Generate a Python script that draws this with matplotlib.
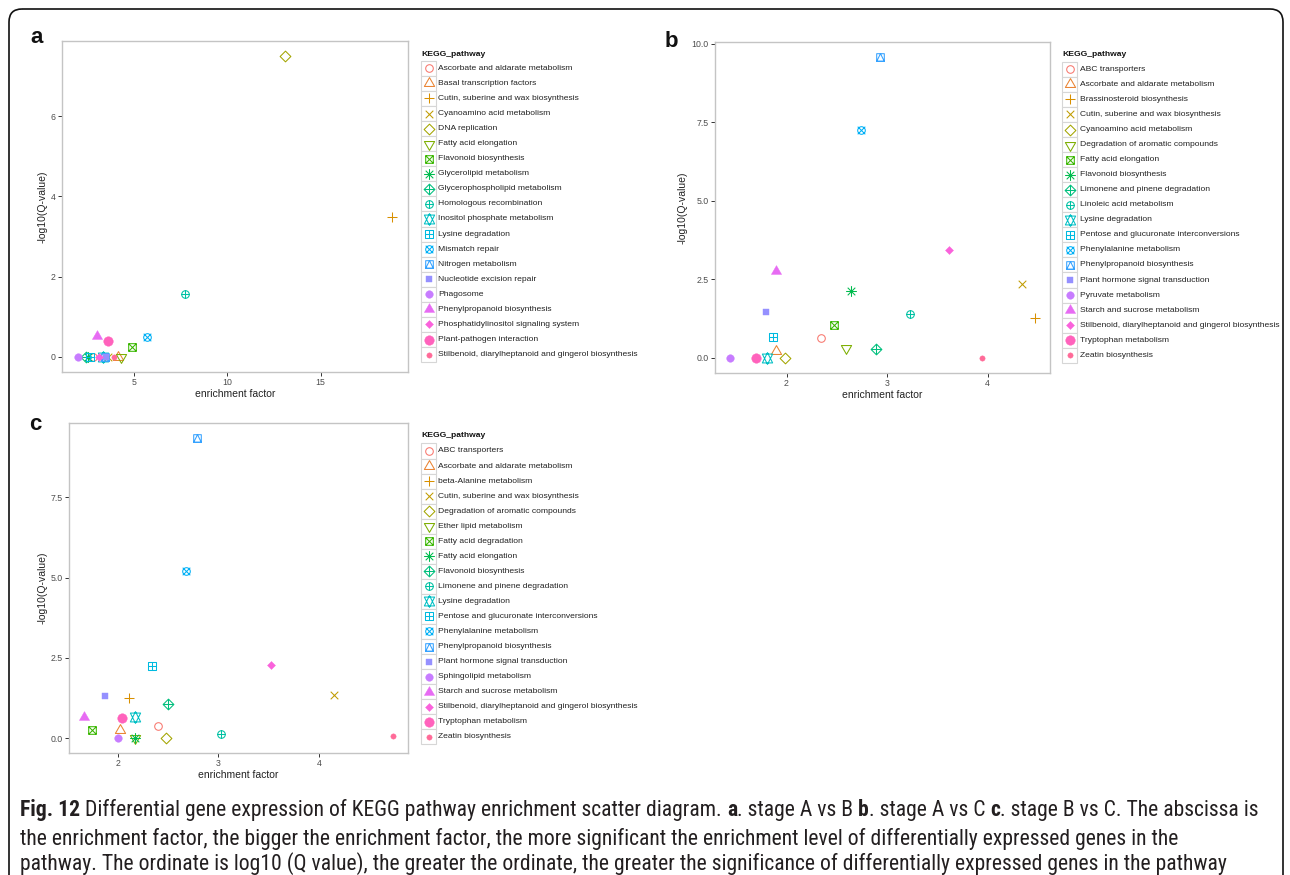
import numpy as np
import matplotlib
matplotlib.use("Agg")
import matplotlib.pyplot as plt
from matplotlib.path import Path
from matplotlib.patches import Rectangle, FancyBboxPatch
from matplotlib import font_manager

# ------------------------- data -------------------------
pathways_a = ["Ascorbate and aldarate metabolism", "Basal transcription factors",
              "Cutin, suberine and wax biosynthesis", "Cyanoamino acid metabolism",
              "DNA replication", "Fatty acid elongation", "Flavonoid biosynthesis",
              "Glycerolipid metabolism", "Glycerophospholipid metabolism",
              "Homologous recombination", "Inositol phosphate metabolism",
              "Lysine degradation", "Mismatch repair", "Nitrogen metabolism",
              "Nucleotide excision repair", "Phagosome", "Phenylpropanoid biosynthesis",
              "Phosphatidylinositol signaling system", "Plant-pathogen interaction",
              "Stilbenoid, diarylheptanoid and gingerol biosynthesis"]
ef_a = [2.80, 4.15, 18.84, 3.60, 13.10, 4.33, 4.88, 2.55, 2.42, 7.74,
        3.35, 2.65, 5.73, 3.45, 3.52, 2.00, 3.01, 3.13, 3.60, 3.93]
q_a = [0.0, 0.0, 3.48, 0.0, 7.50, 0.0, 0.25, 0.0, 0.0, 1.57,
       0.0, 0.0, 0.50, 0.0, 0.0, 0.0, 0.53, 0.0, 0.40, 0.0]

pathways_b = ["ABC transporters", "Ascorbate and aldarate metabolism",
              "Brassinosteroid biosynthesis", "Cutin, suberine and wax biosynthesis",
              "Cyanoamino acid metabolism", "Degradation of aromatic compounds",
              "Fatty acid elongation", "Flavonoid biosynthesis",
              "Limonene and pinene degradation", "Linoleic acid metabolism",
              "Lysine degradation", "Pentose and glucuronate interconversions",
              "Phenylalanine metabolism", "Phenylpropanoid biosynthesis",
              "Plant hormone signal transduction", "Pyruvate metabolism",
              "Starch and sucrose metabolism",
              "Stilbenoid, diarylheptanoid and gingerol biosynthesis",
              "Tryptophan metabolism", "Zeatin biosynthesis"]
ef_b = [2.34, 1.90, 4.47, 4.34, 1.98, 2.59, 2.47, 2.64, 2.89, 3.23,
        1.81, 1.87, 2.74, 2.93, 1.80, 1.44, 1.90, 3.62, 1.70, 3.94]
q_b = [0.64, 0.22, 1.26, 2.34, 0.0, 0.31, 1.05, 2.14, 0.28, 1.40,
       0.0, 0.68, 7.25, 9.57, 1.47, 0.0, 2.77, 3.44, 0.0, 0.01]

pathways_c = ["ABC transporters", "Ascorbate and aldarate metabolism",
              "beta-Alanine metabolism", "Cutin, suberine and wax biosynthesis",
              "Degradation of aromatic compounds", "Ether lipid metabolism",
              "Fatty acid degradation", "Fatty acid elongation",
              "Flavonoid biosynthesis", "Limonene and pinene degradation",
              "Lysine degradation", "Pentose and glucuronate interconversions",
              "Phenylalanine metabolism", "Phenylpropanoid biosynthesis",
              "Plant hormone signal transduction", "Sphingolipid metabolism",
              "Starch and sucrose metabolism",
              "Stilbenoid, diarylheptanoid and gingerol biosynthesis",
              "Tryptophan metabolism", "Zeatin biosynthesis"]
ef_c = [2.40, 2.02, 2.11, 4.15, 2.48, 2.17, 1.75, 2.17, 2.50, 3.03,
        2.17, 2.34, 2.68, 2.79, 1.87, 2.00, 1.67, 3.52, 2.04, 4.73]
q_c = [0.38, 0.25, 1.25, 1.33, 0.0, 0.0, 0.25, 0.0, 1.05, 0.11,
       0.66, 2.23, 5.19, 9.35, 1.31, 0.0, 0.66, 2.26, 0.61, 0.06]

xticks_a = [5, 10, 15]
yticks_a = [0, 2, 4, 6]
ylabels_a = ["0", "2", "4", "6"]
xticks_b = [2, 3, 4]
yticks_b = [0, 2.5, 5, 7.5, 10]
ylabels_b = ["0.0", "2.5", "5.0", "7.5", "10.0"]
xticks_c = [2, 3, 4]
yticks_c = [0, 2.5, 5, 7.5]
ylabels_c = ["0.0", "2.5", "5.0", "7.5"]

caption_lines = [
    [("Fig. 12", "bold"), (" Differential gene expression of KEGG pathway enrichment scatter diagram. ", "normal"),
     ("a", "bold"), (". stage A vs B ", "normal"), ("b", "bold"), (". stage A vs C ", "normal"),
     ("c", "bold"), (". stage B vs C. The abscissa is", "normal")],
    [("the enrichment factor, the bigger the enrichment factor, the more significant the enrichment level of differentially expressed genes in the", "normal")],
    [("pathway. The ordinate is log10 (Q value), the greater the ordinate, the greater the significance of differentially expressed genes in the pathway", "normal")],
]

# ------------------------- style helpers -------------------------
FONT = "Liberation Sans"
plt.rcParams["font.family"] = [FONT, "DejaVu Sans"]


def hcl_hex(h, c=100.0, l=65.0):
    hr = np.radians(h)
    U, V = c * np.cos(hr), c * np.sin(hr)
    Y = 100.0 * ((l + 16.0) / 116.0) ** 3
    un, vn = 0.1978398, 0.4683363
    u = U / (13.0 * l) + un
    v = V / (13.0 * l) + vn
    X = 9.0 * Y * u / (4.0 * v)
    Z = Y * (12.0 - 3.0 * u - 20.0 * v) / (4.0 * v)
    X, Y, Z = X / 100.0, Y / 100.0, Z / 100.0
    rgb = [3.240479 * X - 1.537150 * Y - 0.498535 * Z,
           -0.969256 * X + 1.875992 * Y + 0.041556 * Z,
           0.055648 * X - 0.204043 * Y + 1.057311 * Z]
    out = []
    for ch in rgb:
        ch = 1.055 * ch ** (1 / 2.4) - 0.055 if ch > 0.0031308 else 12.92 * ch
        out.append(min(max(ch, 0.0), 1.0))
    return tuple(out)


N = 20
COLORS = [hcl_hex(15 + 360.0 * i / N) for i in range(N)]


def poly(pts):
    verts = list(pts) + [pts[0]]
    codes = [Path.MOVETO] + [Path.LINETO] * (len(pts) - 1) + [Path.CLOSEPOLY]
    return Path(verts, codes)


def seg(p, q):
    return Path([p, q], [Path.MOVETO, Path.LINETO])


def circ(r):
    return Path.circle((0, 0), r)


def xcross(a):
    return [seg((-a, -a), (a, a)), seg((-a, a), (a, -a))]


def plus(a):
    return [seg((-a, 0), (a, 0)), seg((0, -a), (0, a))]


def diamond(a):
    return poly([(0, -a), (a, 0), (0, a), (-a, 0)])


S2 = np.sqrt(2.0)
TRI_UP = poly([(0, 1.555), (1.347, -0.778), (-1.347, -0.778)])
TRI_DN = poly([(0, -1.555), (1.347, 0.778), (-1.347, 0.778)])
SQUARE = poly([(-1, -1), (1, -1), (1, 1), (-1, 1)])
SQUARE_S = poly([(-0.9, -0.9), (0.9, -0.9), (0.9, 0.9), (-0.9, 0.9)])

SHAPE_PARTS = {
    1: ([circ(1)], False),
    2: ([TRI_UP], False),
    3: (plus(S2), False),
    4: (xcross(1), False),
    5: ([diamond(S2)], False),
    6: ([TRI_DN], False),
    7: ([SQUARE] + xcross(1), False),
    8: (xcross(1) + plus(S2), False),
    9: ([diamond(S2)] + plus(S2), False),
    10: ([circ(1)] + plus(1), False),
    11: ([poly([(0, -1.555), (1.347, 1.166), (-1.347, 1.166)]),
          poly([(0, 1.555), (1.347, -1.166), (-1.347, -1.166)])], False),
    12: ([SQUARE] + plus(1), False),
    13: ([circ(1)] + xcross(1), False),
    14: ([SQUARE, poly([(-1, -1), (0, 1), (1, -1)])], False),
    15: ([SQUARE_S], True),
    16: ([circ(1.0)], True),
    17: ([TRI_UP], True),
    18: ([diamond(1.05)], True),
    19: ([circ(1.25)], True),
    20: ([circ(0.7)], True),
}
MARKERS = {k: (Path.make_compound_path(*v[0]), v[1]) for k, v in SHAPE_PARTS.items()}

R_PT = 3.8 * 72.0 / 100.0  # marker "radius" in points
MEW = 0.75


def draw_pt(ax, x, y, shape, color):
    path, filled = MARKERS[shape]
    ms = 2.0 * np.abs(path.vertices).max() * R_PT
    if filled:
        ax.plot([x], [y], linestyle="none", marker=path, ms=ms, mfc=color,
                mec=color, mew=0.3, clip_on=False)
    else:
        ax.plot([x], [y], linestyle="none", marker=path, ms=ms, mfc="none",
                mec=color, mew=MEW, clip_on=False)


W, H = 1290, 875
fig = plt.figure(figsize=(W / 100, H / 100), dpi=100)
fig.patch.set_facecolor("white")


def px_axes(l, t, r, b):
    return fig.add_axes([l / W, 1 - b / H, (r - l) / W, (b - t) / H])


def setup_panel(ax, xs, ys, xt, yt, ytl, ylab_pad):
    for i in range(len(xs)):
        draw_pt(ax, xs[i], ys[i], i + 1, COLORS[i])
    xr = max(xs) - min(xs)
    yr = max(ys) - min(ys)
    ax.set_xlim(min(xs) - 0.05 * xr, max(xs) + 0.05 * xr)
    ax.set_ylim(min(ys) - 0.05 * yr, max(ys) + 0.05 * yr)
    ax.set_xticks(xt)
    ax.set_xticklabels([str(v) for v in xt])
    ax.set_yticks(yt)
    ax.set_yticklabels(ytl)
    for s in ax.spines.values():
        s.set_color("#c4c4c4")
        s.set_linewidth(1.0)
    ax.tick_params(axis="both", length=3.0, width=0.7, color="#333333",
                   labelsize=6.3, labelcolor="#4d4d4d", pad=1.5)
    ax.set_xlabel("enrichment factor", fontsize=7.5, color="#222222", labelpad=1.2)
    ax.set_ylabel("-log10(Q-value)", fontsize=7.5, color="#222222", labelpad=ylab_pad)


ax_a = px_axes(62, 41, 408, 372)
setup_panel(ax_a, ef_a, q_a, xticks_a, yticks_a, ylabels_a, 2.5)
ax_b = px_axes(715, 42, 1050, 373)
setup_panel(ax_b, ef_b, q_b, xticks_b, yticks_b, ylabels_b, 3.0)
ax_c = px_axes(69, 423, 408, 753)
setup_panel(ax_c, ef_c, q_c, xticks_c, yticks_c, ylabels_c, 2.5)

# overlay in pixel coordinates
ov = fig.add_axes([0, 0, 1, 1])
ov.set_xlim(0, W)
ov.set_ylim(H, 0)
ov.axis("off")


def draw_legend(x0, y_title, y_first, step, labels):
    ov.text(x0 + 0.5, y_title, "KEGG_pathway", fontsize=6.1, fontweight="bold",
            va="center", ha="left", color="#111111")
    for i, lab in enumerate(labels):
        yc = y_first + i * step
        ov.add_patch(Rectangle((x0, yc - step / 2), 15, step, fc="white",
                               ec="#d6d6d6", lw=0.8))
        draw_pt(ov, x0 + 7.5, yc, i + 1, COLORS[i])
        ov.text(x0 + 17.5, yc, lab, fontsize=6.1, va="center", ha="left", color="#222222")


draw_legend(421, 54.3, 68.3, 15.07, pathways_a)
draw_legend(1062.3, 55.0, 69.3, 15.05, pathways_b)
draw_legend(421, 435.7, 451.0, 15.04, pathways_c)

# panel letters
for lab, x, y in [("a", 30, 43), ("b", 665, 47), ("c", 29, 430)]:
    ov.text(x, y, lab, fontsize=16, fontweight="bold", ha="left", va="baseline",
            color="#111111")

# outer rounded frame (bottom edge lies below the picture)
ov.add_patch(FancyBboxPatch((9, 9), 1274, 920, boxstyle="round,pad=0,rounding_size=13",
                            fc="none", ec="#111111", lw=1.2, clip_on=True))

# caption
names = {f.name for f in font_manager.fontManager.ttflist}
cap_font = FONT
for cand in ["Liberation Sans Narrow", "Roboto Condensed", "Open Sans Condensed"]:
    if cand in names:
        cap_font = cand
        break

renderer = fig.canvas.get_renderer()


def text_w(s, size, weight):
    t = ov.text(0, 0, "|" + s + "|", fontsize=size, fontweight=weight, family=[cap_font, "DejaVu Sans"])
    w1 = t.get_window_extent(renderer).width
    t.remove()
    t = ov.text(0, 0, "||", fontsize=size, fontweight=weight, family=[cap_font, "DejaVu Sans"])
    w2 = t.get_window_extent(renderer).width
    t.remove()
    return w1 - w2


base = 15.0
w_line1 = sum(text_w(s, base, wt) for s, wt in caption_lines[0])
cap_size = min(base * 1243.0 / w_line1, 16.0)

for line, yb in zip(caption_lines, [816, 845, 870]):
    x = 20.0
    for s, wt in line:
        ov.text(x, yb, s, fontsize=cap_size, fontweight=wt, ha="left", va="baseline",
                color="#231f20", family=[cap_font, "DejaVu Sans"])
        x += text_w(s, cap_size, wt)

fig.savefig("out.png", dpi=100, facecolor="white")
